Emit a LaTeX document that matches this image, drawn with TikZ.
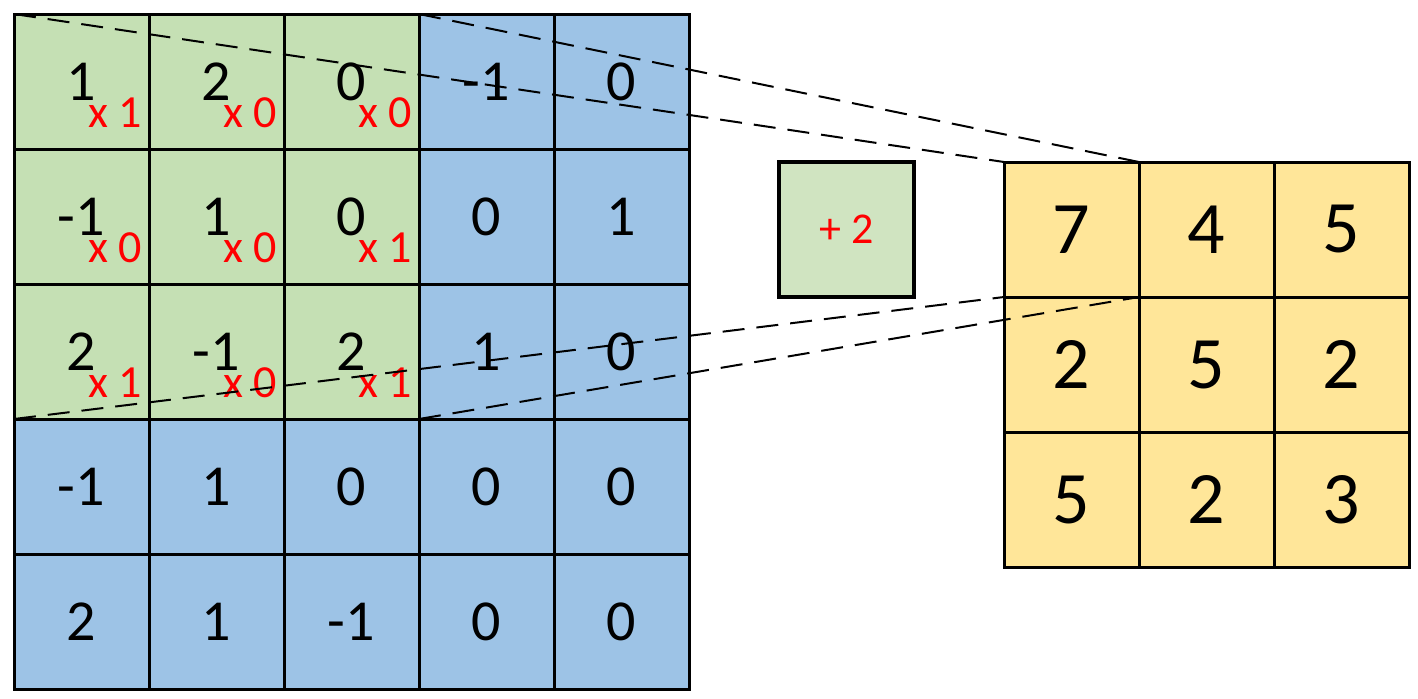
\documentclass[tikz,border=0pt]{standalone}
\usepackage{fontspec}
\setmainfont{Carlito}
\usetikzlibrary{positioning}
\definecolor{kerngreen}{HTML}{C5E0B4}
\definecolor{biasgreen}{HTML}{D0E4C1}
\definecolor{imgblue}{HTML}{9DC3E6}
\definecolor{featyellow}{HTML}{FFE699}

\begin{document}
\begin{tikzpicture}[
    x=0.5pt, y=-0.5pt,
    cell/.style={
        draw,
        line width=1.5pt,
        minimum size=67.5pt,
        inner sep=0pt,
        outer sep=0pt,
        font=\fontsize{29}{34}\selectfont
    },
    outcell/.style={
        cell,
        fill=featyellow,
        font=\fontsize{37}{44}\selectfont
    },
    biasbox/.style={
        cell,
        fill=biasgreen,
        line width=2pt,
        text=red,
        font=\fontsize{22}{26}\selectfont
    },
    mul/.style={text=red, inner sep=0pt, font=\fontsize{23}{28}\selectfont},
    proj/.style={dash pattern=on 11pt off 6pt, line width=1pt}
]
    \useasboundingbox (0,0) rectangle (1418,698);
    %% Eingabe 5x5
    \foreach \vals [count=\r] in {{1,2,0,-1,0},{-1,1,0,0,1},{2,-1,2,1,0},{-1,1,0,0,0},{2,1,-1,0,0}} {
        \foreach \v [count=\c] in \vals {
            \ifnum\r<4 \ifnum\c<4 \def\cfill{kerngreen}\else\def\cfill{imgblue}\fi
            \else\def\cfill{imgblue}\fi
            \node[cell, fill=\cfill] (in-\r-\c) at ({81.5+135*(\c-1)},{81.5+135*(\r-1)}) {\v};
        }
    }
    %% Gewichte des Kerns
    \foreach \r/\c/\w in {1/1/1,1/2/0,1/3/0,2/1/0,2/2/0,2/3/1,3/1/1,3/2/0,3/3/1}
        \node[mul] at ([shift={(33.5,31.5)}]in-\r-\c.center) {x \w};
    %% Bias
    \node[biasbox] (bias) at (846.5,229.5) {+ 2};
    %% Ausgabe 3x3
    \foreach \vals [count=\r] in {{7,4,5},{2,5,2},{5,2,3}} {
        \foreach \v [count=\c] in \vals
            \node[outcell] (out-\r-\c) at ({1071.5+135*(\c-1)},{229.5+135*(\r-1)}) {\v};
    }
    %% Projektionslinien
    \draw[proj] (in-1-1.north west) -- (out-1-1.north west);
    \draw[proj] (in-1-3.north east) -- (out-1-1.north east);
    \draw[proj] (in-3-1.south west) -- (out-1-1.south west);
    \draw[proj] (in-3-3.south east) -- (out-1-1.south east);
\end{tikzpicture}
\end{document}
